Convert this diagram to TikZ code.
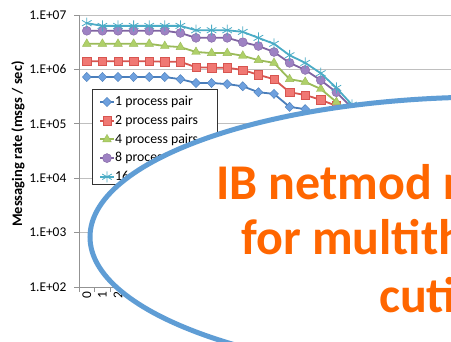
\documentclass[tikz,border=0pt]{standalone}
\usepackage{fontspec}
\setmainfont{Carlito}
\usetikzlibrary{shapes.geometric, plotmarks}
\definecolor{pairblue}{RGB}{74,126,187}
\definecolor{pairbluelt}{RGB}{110,160,222}
\definecolor{pairred}{RGB}{215,85,80}
\definecolor{pairredlt}{RGB}{240,120,115}
\definecolor{pairgreen}{RGB}{155,187,89}
\definecolor{pairgreenlt}{RGB}{175,208,105}
\definecolor{pairpurple}{RGB}{128,100,162}
\definecolor{pairpurplelt}{RGB}{158,130,195}
\definecolor{paircyan}{RGB}{75,172,198}
\definecolor{bubbleblue}{RGB}{95,157,213}
\definecolor{headorange}{RGB}{255,102,0}
\tikzstyle{gridline} = [
    draw=gray!50,
    line width=0.7pt
]
\tikzstyle{axisline} = [
    draw=gray!85,
    line width=0.8pt
]
\tikzstyle{ticklabel} = [
    font=\fontsize{13.4}{13.4}\selectfont,
    inner sep=0pt
]
\tikzstyle{axistitle} = [
    font=\fontsize{14.5}{14.5}\selectfont\bfseries,
    inner sep=0pt
]
\tikzstyle{pair1} = [
    line width=1.8pt,
    draw=pairblue,
    mark=diamond*,
    mark size=4.6pt,
    mark options={fill=pairbluelt, draw=pairblue, line width=0.4pt, xscale=1.3}
]
\tikzstyle{pair2} = [
    line width=1.8pt,
    draw=pairred,
    mark=square*,
    mark size=4.2pt,
    mark options={fill=pairredlt, draw=pairred, line width=0.4pt}
]
\tikzstyle{pair4} = [
    line width=1.8pt,
    draw=pairgreen,
    mark=triangle*,
    mark size=5pt,
    mark options={fill=pairgreenlt, draw=pairgreen, line width=0.4pt}
]
\tikzstyle{pair8} = [
    line width=1.8pt,
    draw=pairpurple,
    mark=*,
    mark size=4.5pt,
    mark options={fill=pairpurplelt, draw=pairpurple, line width=0.4pt}
]
\tikzstyle{pair16} = [
    line width=1.8pt,
    draw=paircyan,
    mark=asterisk,
    mark size=5.5pt,
    mark options={draw=paircyan, line width=0.8pt}
]
\tikzstyle{legendbox} = [
    rectangle,
    draw=black!80,
    fill=white,
    line width=0.6pt,
    minimum width=125pt,
    minimum height=95pt
]
\tikzstyle{legendtext} = [
    font=\fontsize{13.8}{13.8}\selectfont,
    inner sep=0pt,
    anchor=west
]
\tikzstyle{bubble} = [
    ellipse,
    draw=bubbleblue,
    fill=white,
    line width=5pt,
    inner sep=0pt,
    minimum width=800pt,
    minimum height=280pt
]
\tikzstyle{headline} = [
    text=headorange,
    font=\fontsize{50}{50}\selectfont\bfseries,
    inner sep=0pt,
    anchor=base west
]

\begin{document}
\begin{tikzpicture}[x=1pt, y=1pt]

\fill[white] (0,0) rectangle (451,341);
\useasboundingbox (0,0) rectangle (451,341);
\clip (0,0) rectangle (451,341);

\node[axistitle, rotate=90] (ytitle) at (18,197) {Messaging rate (msgs / sec)};

\begin{scope}[x=15.6pt, y=54.4pt, shift={(79pt,-54.8pt)}]
\foreach \e in {3,...,7}
    \draw[gridline] (0,\e) -- (24,\e);
\draw[axisline] (0,2) -- (0,7);
\draw[axisline] (0,2) -- (24,2);
\foreach \e in {2,...,7} {
    \draw[axisline] (0,\e) -- ++(-5pt,0);
    \node[ticklabel, anchor=east] (ylab\e) at (-0.8,\e) {1.E+0\e};
}
\foreach \i in {0,...,24}
    \draw[axisline] (\i,2) -- ++(0,-5pt);
\foreach \x/\lab in {0.5/0, 1.5/1, 2.5/2}
    \node[ticklabel, rotate=90, anchor=east] (xlab\lab) at ([yshift=-5pt]\x,2) {\lab};

\draw[pair1] plot coordinates {(0.5,5.86) (1.5,5.86) (2.5,5.86) (3.5,5.86)
    (4.5,5.86) (5.5,5.86) (6.5,5.82) (7.5,5.75) (8.5,5.75) (9.5,5.73)
    (10.5,5.69) (11.5,5.58) (12.5,5.55) (13.5,5.31) (14.5,5.27) (15.5,5.11)
    (16.5,4.98) (17.5,4.85)};
\draw[pair2] plot coordinates {(0.5,6.15) (1.5,6.15) (2.5,6.15) (3.5,6.15)
    (4.5,6.15) (5.5,6.14) (6.5,6.14) (7.5,6.04) (8.5,6.03) (9.5,6.03)
    (10.5,5.99) (11.5,5.90) (12.5,5.82) (13.5,5.58) (14.5,5.53) (15.5,5.44)
    (16.5,5.33) (17.5,5.16)};
\draw[pair4] plot coordinates {(0.5,6.47) (1.5,6.47) (2.5,6.47) (3.5,6.47)
    (4.5,6.47) (5.5,6.43) (6.5,6.41) (7.5,6.32) (8.5,6.30) (9.5,6.30)
    (10.5,6.25) (11.5,6.17) (12.5,6.12) (13.5,5.82) (14.5,5.77) (15.5,5.64)
    (16.5,5.40) (17.5,5.16)};
\draw[pair8] plot coordinates {(0.5,6.71) (1.5,6.71) (2.5,6.71) (3.5,6.71)
    (4.5,6.71) (5.5,6.71) (6.5,6.67) (7.5,6.58) (8.5,6.58) (9.5,6.58)
    (10.5,6.50) (11.5,6.43) (12.5,6.32) (13.5,6.12) (14.5,5.99) (15.5,5.80)
    (16.5,5.58) (17.5,5.29)};
\draw[pair16] plot coordinates {(0.5,6.85) (1.5,6.80) (2.5,6.80) (3.5,6.80)
    (4.5,6.80) (5.5,6.80) (6.5,6.80) (7.5,6.72) (8.5,6.72) (9.5,6.72)
    (10.5,6.69) (11.5,6.58) (12.5,6.47) (13.5,6.26) (14.5,6.12) (15.5,5.93)
    (16.5,5.66) (17.5,5.35)};
\end{scope}

\node[legendbox] (legend) at (154.5,204.5) {};
\foreach \sty/\txt [count=\k] in {pair1/1 process pair, pair2/2 process pairs,
        pair4/4 process pairs, pair8/8 process pairs, pair16/16 process pairs} {
    \draw[\sty] (100,257.7-18.7*\k) -- (114,257.7-18.7*\k);
    \draw[\sty] plot coordinates {(107,257.7-18.7*\k)};
    \node[legendtext] (leg\k) at (115,257.7-18.7*\k) {\txt};
}

\node[bubble] (bubble) at (490,104) {};
\node[headline] (head1) at (216,142) {IB netmod r};
\node[headline] (head2) at (241,86) {for multith};
\node[headline] (head3) at (379,29) {cuti};

\end{tikzpicture}
\end{document}
